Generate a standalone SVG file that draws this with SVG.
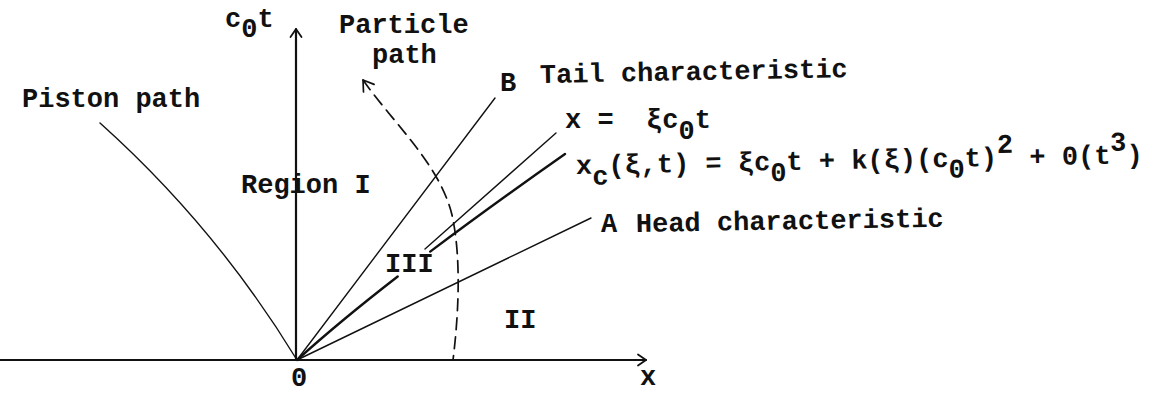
<svg xmlns="http://www.w3.org/2000/svg" width="1163" height="393" viewBox="0 0 1163 393">
<style>
  text { font-family: "Liberation Mono", "Courier New", monospace; font-size: 27px; font-weight: bold; fill: #111; }
  .ln { fill: none; stroke: #111; stroke-linecap: round; }
  .axis { stroke-width: 2.2; }
  .thin { stroke-width: 1.4; }
  .thick { stroke-width: 2.4; }
  .dash { stroke-width: 1.7; stroke-dasharray: 12 7; }
</style>
<defs>
  <marker id="arr" markerUnits="userSpaceOnUse" markerWidth="14" markerHeight="14" refX="9" refY="6" orient="auto" overflow="visible">
    <path d="M1,0.5 L9,6 L1,11.5" fill="none" stroke="#111" stroke-width="1.8" stroke-linecap="round" stroke-linejoin="round"/>
  </marker>
  <marker id="arrStart" markerUnits="userSpaceOnUse" markerWidth="16" markerHeight="16" refX="11" refY="7" orient="auto-start-reverse" overflow="visible">
    <path d="M1,0.5 L11,7 L1,13.5" fill="none" stroke="#111" stroke-width="1.7" stroke-linecap="round" stroke-linejoin="round"/>
  </marker>
</defs>
<rect width="1163" height="393" fill="#fff"/>

<g id="connectors">
  <path id="x-axis" class="ln axis" d="M0,360 L646,360" marker-end="url(#arr)"/>
  <path id="t-axis" class="ln axis" d="M296,360 L296,29" marker-end="url(#arr)"/>
  <path id="piston" class="ln thin" d="M100,123 Q216,227 297,360"/>
  <path id="tail-B" class="ln thin" d="M297,360 L495,98"/>
  <path id="head-A" class="ln thin" d="M297,360 L591,218"/>
  <path id="xi-line" class="ln thin" d="M425,249 L556,133"/>
  <path id="xc-curve" class="ln thick" d="M297,360 Q339,322 397.7,276.5 M430.2,251.6 Q490.4,206.3 565,154"/>
  <path id="particle" class="ln dash" d="M363,80 C395,125 440,165 452,215 C462,260 458,320 453,360" marker-start="url(#arrStart)"/>
</g>

<g id="label-ct"><text x="225" y="27">c<tspan dy="10">0</tspan><tspan dy="-10">t</tspan></text></g>
<g id="label-particle"><text x="339" y="33">Particle</text><text x="372" y="63">path</text></g>
<g id="label-piston"><text x="22" y="107">Piston path</text></g>
<g id="label-region1"><text x="241" y="193">Region I</text></g>
<g id="label-B"><text x="500" y="91">B</text></g>
<g id="label-tail"><text x="540" y="83" transform="rotate(-1.1 540 83)">Tail characteristic</text></g>
<g id="label-xi"><text x="565" y="128" xml:space="preserve">x =  ξc<tspan dy="11">0</tspan><tspan dy="-11">t</tspan></text></g>
<g id="label-xc"><text x="576" y="174" transform="rotate(-1.1 576 174)" xml:space="preserve">x<tspan dy="11">c</tspan><tspan dy="-11">(ξ,t) = ξc</tspan><tspan dy="11">0</tspan><tspan dy="-11">t + k(ξ)(c</tspan><tspan dy="11">0</tspan><tspan dy="-11">t)</tspan><tspan dy="-13">2</tspan><tspan dy="13"> + 0(t</tspan><tspan dy="-13">3</tspan><tspan dy="13">)</tspan></text></g>
<g id="label-A"><text x="601" y="232">A</text></g>
<g id="label-head"><text x="636" y="232" transform="rotate(-1 636 232)">Head characteristic</text></g>
<g id="label-III"><text x="385" y="272">III</text></g>
<g id="label-II"><text x="504" y="328">II</text></g>
<g id="label-0"><text x="299" y="386" text-anchor="middle">0</text></g>
<g id="label-x"><text x="648" y="385" text-anchor="middle">x</text></g>
</svg>
